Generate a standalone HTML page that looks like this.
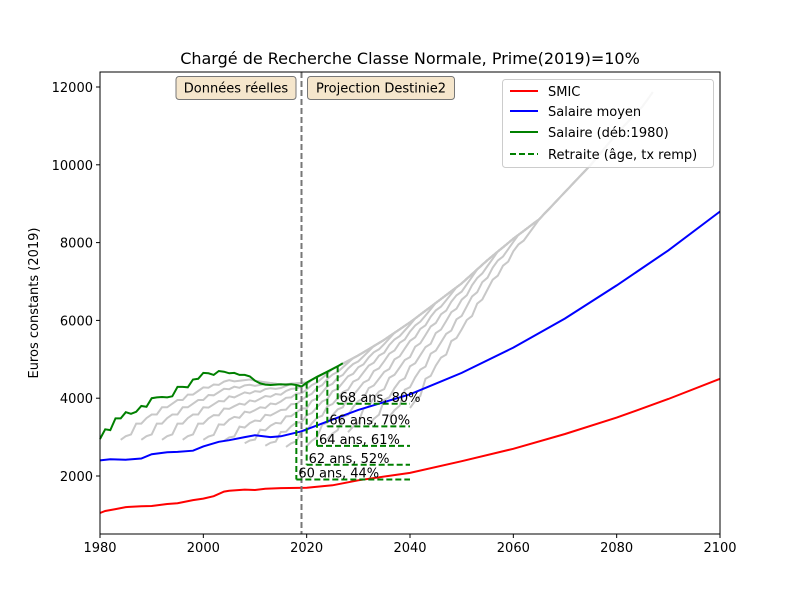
<!DOCTYPE html>
<html><head><meta charset="utf-8"><style>
body{margin:0;background:#fff}
svg{font-family:"DejaVu Sans","Liberation Sans",sans-serif}
</style></head><body>
<svg id="chart" width="800" height="600" viewBox="0 0 800 600">
<rect width="800" height="600" fill="#fff"/>
<g id="g-gray"></g>
<g id="g-main"></g>
<g id="g-ret"></g>
<g id="g-axes"></g>
<text x="410" y="64" font-size="16" text-anchor="middle">Chargé de Recherche Classe Normale, Prime(2019)=10%</text>
<text transform="translate(38,303) rotate(-90)" font-size="13" text-anchor="middle">Euros constants (2019)</text>
<g><rect x="176" y="76.5" width="120" height="23" rx="3" fill="#f5e6cc" stroke="#777"/><text x="236" y="92.5" font-size="13" text-anchor="middle">Données réelles</text></g>
<g><rect x="307.5" y="76.5" width="147" height="23" rx="3" fill="#f5e6cc" stroke="#777"/><text x="381" y="92.5" font-size="13" text-anchor="middle">Projection Destinie2</text></g>
<g>
<rect x="502.5" y="79.5" width="211" height="88" rx="3" fill="#fff" fill-opacity="0.85" stroke="#ccc"/>
<g><line x1="510" y1="91" x2="538" y2="91" stroke="red" stroke-width="2"/><text x="548" y="96" font-size="13">SMIC</text></g>
<g><line x1="510" y1="111" x2="538" y2="111" stroke="blue" stroke-width="2"/><text x="548" y="116" font-size="13">Salaire moyen</text></g>
<g><line x1="510" y1="132" x2="538" y2="132" stroke="green" stroke-width="2"/><text x="548" y="137" font-size="13">Salaire (déb:1980)</text></g>
<g><line x1="510" y1="154" x2="538" y2="154" stroke="green" stroke-width="2" stroke-dasharray="6,3"/><text x="548" y="159" font-size="13">Retraite (âge, tx remp)</text></g>
</g>
</svg>
<script>
const xTicks=[1980,2000,2020,2040,2060,2080,2100];
const yTicks=[2000,4000,6000,8000,10000,12000];
const smicYears=[1980,1981,1983,1985,1988,1990,1993,1995,1998,2000,2002,2004,2005,2008,2010,2012,2015,2020,2025,2030,2040,2050,2060,2070,2080,2090,2100];
const smicVals=[1050,1100,1150,1200,1220,1230,1280,1300,1380,1420,1480,1600,1620,1650,1640,1670,1690,1700,1760,1890,2080,2380,2700,3080,3500,3980,4500];
const moyYears=[1980,1982,1985,1988,1990,1993,1995,1998,2000,2003,2005,2008,2010,2013,2015,2019,2025,2030,2040,2050,2060,2070,2080,2090,2100];
const moyVals=[2400,2430,2420,2450,2560,2610,2620,2650,2760,2880,2920,3000,3050,3000,3020,3150,3450,3700,4100,4650,5300,6050,6900,7800,8800];
const greenYears=[1980,1981,1982,1983,1984,1985,1986,1987,1988,1989,1990,1991,1992,1993,1994,1995,1996,1997,1998,1999,2000,2001,2002,2003,2004,2005,2006,2007,2008,2009,2010,2011,2012,2013,2014,2015,2016,2017,2018,2019,2020,2022,2024,2026,2027];
const greenVals=[2950,3200,3180,3480,3480,3640,3600,3650,3800,3780,4000,4020,4030,4020,4050,4290,4290,4280,4480,4500,4650,4640,4600,4700,4680,4640,4650,4600,4600,4560,4450,4380,4350,4340,4350,4360,4350,4360,4340,4300,4400,4550,4680,4820,4900];
const envYears=[1980,1985,1990,1995,2000,2005,2010,2015,2020,2025,2030,2035,2040,2045,2050,2055,2060,2065,2070,2075,2080,2085,2087];
const envVals=[4650,4650,4650,4650,4650,4600,4450,4350,4400,4750,5100,5500,5950,6450,6950,7550,8100,8600,9300,10000,10800,11500,11870];
const careerProfile=[0.63,0.65,0.66,0.72,0.72,0.75,0.77,0.77,0.81,0.81,0.83,0.85,0.85,0.88,0.88,0.9,0.92,0.92,0.94,0.94,0.96,0.97,0.97,0.98,0.99,1,1,1,1,1,1,1,1,1,1,1,1,1,1,1,1,1,1,1,1,1,1,1];
const cohortStarts=[1984,1988,1992,1996,2000,2004,2008,2012,2016,2020,2024,2028,2032,2036,2040];
const retYears=[2018,2020,2022,2024,2026];
const retRates=[44,52,61,70,80];
const retAges=[60,62,64,66,68];
const retEnd=2040;

const X0=100,X1=720,Y0=534,Y1=72;
const sx=y=>X0+(y-1980)*(X1-X0)/120;
const sy=v=>553.8-v*0.0389;
const NS="http://www.w3.org/2000/svg";
function mk(t,a,p){const e=document.createElementNS(NS,t);for(const k in a)e.setAttribute(k,a[k]);p.appendChild(e);return e;}
function interp(xs,vs,x){if(x<=xs[0])return vs[0];for(let i=1;i<xs.length;i++){if(x<=xs[i]){const f=(x-xs[i-1])/(xs[i]-xs[i-1]);return vs[i-1]+f*(vs[i]-vs[i-1]);}}return vs[vs.length-1];}
function pts(xs,vs){return xs.map((x,i)=>sx(x).toFixed(1)+","+sy(vs[i]).toFixed(1)).join(" ");}

const gg=document.getElementById('g-gray');
cohortStarts.forEach(s=>{
  const xs=[],vs=[];
  for(let k=0;k<careerProfile.length;k++){const yr=s+k;if(yr>2087)break;xs.push(yr);vs.push(interp(envYears,envVals,yr)*careerProfile[k]);}
  const p=mk('polyline',{points:pts(xs,vs),fill:'none',stroke:'#c8c8c8','stroke-width':2},gg);
  
  
});
const env=mk('polyline',{points:pts(envYears.filter(y=>y>=2026),envVals.filter((v,i)=>envYears[i]>=2026)),fill:'none',stroke:'#c8c8c8','stroke-width':2},gg);



const gm=document.getElementById('g-main');
const s1=mk('polyline',{points:pts(smicYears,smicVals),fill:'none',stroke:'red','stroke-width':2},gm);


const s2=mk('polyline',{points:pts(moyYears,moyVals),fill:'none',stroke:'blue','stroke-width':2},gm);


const s3=mk('polyline',{points:pts(greenYears,greenVals),fill:'none',stroke:'green','stroke-width':2},gm);


const vl=mk('line',{x1:sx(2019),x2:sx(2019),y1:Y1,y2:Y0,stroke:'#777','stroke-width':2,'stroke-dasharray':'6,3'},gm);



const gr=document.getElementById('g-ret');
retYears.forEach((yr,i)=>{
  const sal=interp(greenYears,greenVals,yr),pen=sal*retRates[i]/100;
  const g=mk('g',{},gr);
  
  
  mk('line',{x1:sx(yr),x2:sx(yr),y1:sy(sal),y2:sy(pen),stroke:'green','stroke-width':2,'stroke-dasharray':'6,3'},g);
  mk('line',{x1:sx(yr),x2:sx(retEnd),y1:sy(pen),y2:sy(pen),stroke:'green','stroke-width':2,'stroke-dasharray':'6,3'},g);
  const t=mk('text',{x:sx(yr)+2,y:sy(pen)-2,'font-size':13},g);
  t.textContent=retAges[i]+' ans, '+retRates[i]+'%';
});

const ga=document.getElementById('g-axes');
mk('rect',{x:X0,y:Y1,width:X1-X0,height:Y0-Y1,fill:'none',stroke:'#000','stroke-width':1},ga);
xTicks.forEach(v=>{const x=sx(v);mk('line',{x1:x,x2:x,y1:Y0,y2:Y0+4,stroke:'#000'},ga);
  const t=mk('text',{x:x,y:Y0+18,'font-size':13,'text-anchor':'middle'},ga);t.textContent=v;
  
  });
yTicks.forEach(v=>{const y=sy(v);mk('line',{x1:X0-4,x2:X0,y1:y,y2:y,stroke:'#000'},ga);
  const t=mk('text',{x:X0-7,y:y+5,'font-size':13,'text-anchor':'end'},ga);t.textContent=v;
  
  });
</script>
</body></html>
